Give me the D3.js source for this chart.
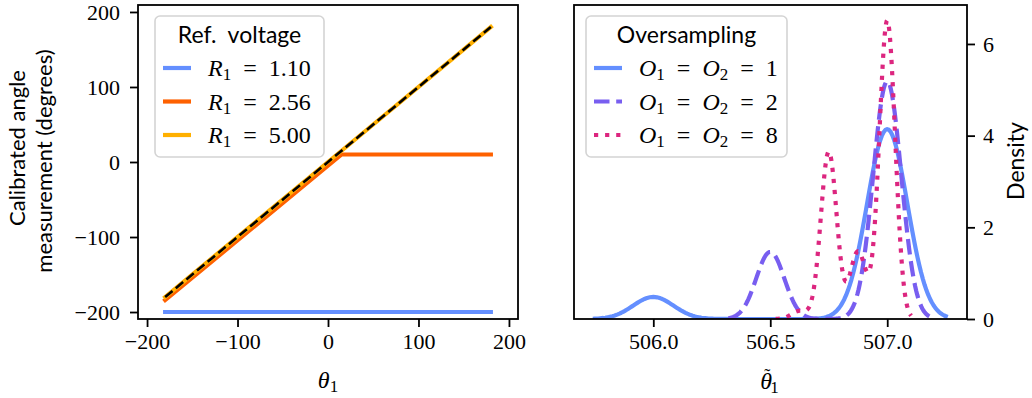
<!DOCTYPE html>
<html>
<head>
<meta charset="utf-8">
<script src="https://cdn.jsdelivr.net/npm/d3@7"></script>
<style>
  body { margin: 0; background: #fff; }
  text { white-space: pre; }
</style>
</head>
<body>
<div id="chart"></div>
<script>
// ---- data ----
// left panel: calibrated angle vs true angle, one line per reference voltage
const refVoltages = [1.10, 2.56, 5.00];
const refColors = ["#648FFF", "#FE6100", "#FFB000"];
const thetaIn = [-180, 15, 180];
const calibrated = [
  [-200, -200, -200],   // R1 = 1.10
  [-184, 10, 10],       // R1 = 2.56
  [-180, 15, 180]       // R1 = 5.00
];
const idealIn = [-180, 180];
const idealOut = [-180, 180];
const leftTicks = [-200, -100, 0, 100, 200];

// right panel: density of the estimated angle, per oversampling factor
const oversampling = [1, 2, 8];
const osColors = ["#648FFF", "#785EF0", "#DC267F"];
const sampleValues = [
  [506.0, 507.0],
  [506.5, 507.0],
  [506.625, 506.75, 506.875, 507.0]
];
const sampleShares = [
  [0.104, 0.896],
  [0.22, 0.78],
  [0.015, 0.311, 0.125, 0.555]
];
const bandwidths = [0.0863, 0.06, 0.034];
const rightXTicks = [506.0, 506.5, 507.0];
const rightYTicks = [0, 2, 4, 6];

// ---- layout ----
const W = 1032, H = 398;
const SERIF = "Liberation Serif, DejaVu Serif, serif";
const SANS = "Lato, DejaVu Sans, sans-serif";

const svg = d3.select("#chart").append("svg")
  .attr("width", W).attr("height", H)
  .style("background", "#fff");

const L = { x0: 138, x1: 518, y0: 5, y1: 319 };
const R = { x0: 574, x1: 967, y0: 5, y1: 319 };

const xL = d3.scaleLinear().domain([-210, 210]).range([L.x0, L.x1]);
const yL = d3.scaleLinear().domain([-209.3, 209.3]).range([L.y1, L.y0]);
const xR = d3.scaleLinear().domain([505.661, 507.341]).range([R.x0, R.x1]);
const yR = d3.scaleLinear().domain([0, 6.85]).range([R.y1, R.y0]);

function serifText(sel) {
  return sel.attr("font-family", SERIF).attr("font-size", 24);
}
function sansText(sel, size) {
  return sel.attr("font-family", SANS).attr("font-size", size || 23);
}

function styleAxis(g) {
  g.attr("font-family", SERIF).attr("font-size", 22);
  g.select(".domain").remove();
  g.selectAll(".tick line").attr("stroke", "#000").attr("stroke-width", 1.8);
  g.selectAll(".tick text").attr("fill", "#000");
}

// clip paths
[["clipL", L], ["clipR", R]].forEach(([id, b]) => {
  svg.append("clipPath").attr("id", id).append("rect")
    .attr("x", b.x0).attr("y", b.y0).attr("width", b.x1 - b.x0).attr("height", b.y1 - b.y0);
});

// math-ish label helper: segments of {t, it, size, dx, dy}
function mathText(sel, parts) {
  parts.forEach(p => {
    const ts = sel.append("tspan").text(p.t);
    if (p.it) ts.attr("font-style", "italic");
    if (p.size) ts.attr("font-size", p.size);
    if (p.dx) ts.attr("dx", p.dx);
    if (p.dy) ts.attr("dy", p.dy);
  });
}

// ---------- left panel ----------
const gL = svg.append("g");

gL.append("g").attr("transform", `translate(0,${L.y1})`)
  .call(d3.axisBottom(xL).tickValues(leftTicks).tickSize(8).tickPadding(6).tickFormat(d3.format("d")))
  .call(styleAxis);
gL.append("g").attr("transform", `translate(${L.x0},0)`)
  .call(d3.axisLeft(yL).tickValues(leftTicks).tickSize(8).tickPadding(10).tickFormat(d3.format("d")))
  .call(styleAxis);

const lineL = d3.line().x(d => xL(d[0])).y(d => yL(d[1]));
const plotL = gL.append("g").attr("clip-path", "url(#clipL)");
calibrated.forEach((ys, i) => {
  plotL.append("path")
    .datum(thetaIn.map((t, j) => [t, ys[j]]))
    .attr("d", lineL)
    .attr("fill", "none")
    .attr("stroke", refColors[i])
    .attr("stroke-width", 4.2)
    .attr("stroke-linecap", "square")
    .attr("stroke-linejoin", "round");
});
plotL.append("path")
  .datum(idealIn.map((t, j) => [t, idealOut[j]]))
  .attr("d", lineL)
  .attr("fill", "none")
  .attr("stroke", "#000")
  .attr("stroke-width", 2.6)
  .attr("stroke-dasharray", "9.6,4.2");

gL.append("rect")
  .attr("x", L.x0).attr("y", L.y0).attr("width", L.x1 - L.x0).attr("height", L.y1 - L.y0)
  .attr("fill", "none").attr("stroke", "#000").attr("stroke-width", 1.8);

// left legend
const legL = gL.append("g");
legL.append("rect")
  .attr("x", 155).attr("y", 16).attr("width", 169).attr("height", 141).attr("rx", 5)
  .attr("fill", "#fff").attr("fill-opacity", 0.8)
  .attr("stroke", "#d4d4d4").attr("stroke-width", 1.6);
legL.append("text").call(sansText).attr("x", 239.5).attr("y", 43).attr("text-anchor", "middle")
  .text("Ref.  voltage");
refVoltages.forEach((r, i) => {
  const cy = 68 + i * 33.5;
  legL.append("line").attr("x1", 163).attr("x2", 191).attr("y1", cy).attr("y2", cy)
    .attr("stroke", refColors[i]).attr("stroke-width", 4.2);
  const t = legL.append("text").call(serifText).attr("x", 208).attr("y", cy + 8);
  mathText(t, [{ t: "R", it: true }, { t: "1", size: 17, dy: 4 }, { t: "  =  " + r.toFixed(2), dy: -4 }]);
});

// axis labels
const thL = gL.append("text").call(serifText).attr("x", (L.x0 + L.x1) / 2).attr("y", 388)
  .attr("text-anchor", "middle");
mathText(thL, [{ t: "θ", it: true }, { t: "1", size: 17, dy: 4 }]);

gL.append("text").call(sansText, 22).attr("transform", "translate(25,148) rotate(-90)")
  .attr("text-anchor", "middle").text("Calibrated angle");
gL.append("text").call(sansText, 22).attr("transform", "translate(52,161) rotate(-90)")
  .attr("text-anchor", "middle").text("measurement (degrees)");

// ---------- right panel ----------
const gR = svg.append("g");

gR.append("g").attr("transform", `translate(0,${R.y1})`)
  .call(d3.axisBottom(xR).tickValues(rightXTicks).tickSize(8).tickPadding(6).tickFormat(d3.format(".1f")))
  .call(styleAxis);
gR.append("g").attr("transform", `translate(${R.x1},0)`)
  .call(d3.axisRight(yR).tickValues(rightYTicks).tickSize(8).tickPadding(8).tickFormat(d3.format("d")))
  .call(styleAxis);

// gaussian KDE over the sampled estimates, evaluated on a 200 point grid (cut = 3 bw)
function kde(values, shares, bw) {
  const lo = d3.min(values) - 3 * bw, hi = d3.max(values) + 3 * bw;
  const norm = 1 / (bw * Math.sqrt(2 * Math.PI));
  return d3.range(200).map(k => {
    const x = lo + (hi - lo) * k / 199;
    const y = d3.sum(values, (v, j) => shares[j] * norm * Math.exp(-0.5 * ((x - v) / bw) ** 2));
    return [x, y];
  });
}

const lineR = d3.line().x(d => xR(d[0])).y(d => yR(d[1]));
const dashes = [null, "15.5,6.7", "4.2,6.9"];
const plotR = gR.append("g").attr("clip-path", "url(#clipR)");
oversampling.forEach((o, i) => {
  plotR.append("path")
    .datum(kde(sampleValues[i], sampleShares[i], bandwidths[i]))
    .attr("d", lineR)
    .attr("fill", "none")
    .attr("stroke", osColors[i])
    .attr("stroke-width", 4.2)
    .attr("stroke-dasharray", dashes[i])
    .attr("stroke-linejoin", "round");
});

gR.append("rect")
  .attr("x", R.x0).attr("y", R.y0).attr("width", R.x1 - R.x0).attr("height", R.y1 - R.y0)
  .attr("fill", "none").attr("stroke", "#000").attr("stroke-width", 1.8);

// right legend
const legR = gR.append("g");
legR.append("rect")
  .attr("x", 586).attr("y", 16).attr("width", 201).attr("height", 141).attr("rx", 5)
  .attr("fill", "#fff").attr("fill-opacity", 0.8)
  .attr("stroke", "#d4d4d4").attr("stroke-width", 1.6);
legR.append("text").call(sansText).attr("x", 686.5).attr("y", 43)
  .attr("text-anchor", "middle").text("Oversampling");
oversampling.forEach((o, i) => {
  const cy = 68 + i * 33.5;
  legR.append("line").attr("x1", 594).attr("x2", 622).attr("y1", cy).attr("y2", cy)
    .attr("stroke", osColors[i]).attr("stroke-width", 4.2)
    .attr("stroke-dasharray", dashes[i]);
  const t = legR.append("text").call(serifText).attr("x", 639).attr("y", cy + 8);
  mathText(t, [
    { t: "O", it: true }, { t: "1", size: 17, dy: 4 }, { t: "  =  ", dy: -4 },
    { t: "O", it: true }, { t: "2", size: 17, dy: 4 }, { t: "  =  " + o, dy: -4 }
  ]);
});

// theta with tilde as one text element
const thR = gR.append("text").call(serifText).attr("x", (R.x0 + R.x1) / 2 - 1).attr("y", 389)
  .attr("text-anchor", "middle");
mathText(thR, [
  { t: "θ", it: true },
  { t: "\u02DC", size: 18, dx: -8, dy: -7 },
  { t: "1", size: 17, dy: 11 }
]);

gR.append("text").call(sansText).attr("transform", "translate(1024,161) rotate(-90)")
  .attr("text-anchor", "middle").text("Density");
</script>
</body>
</html>
